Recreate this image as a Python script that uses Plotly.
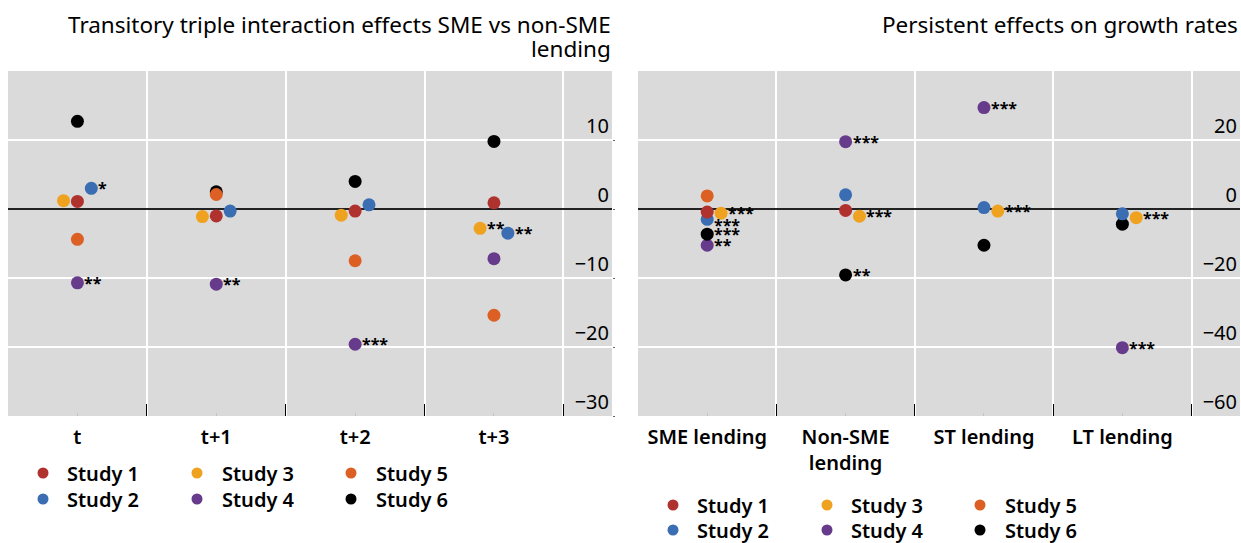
import plotly.graph_objects as go

# ---------------- data ----------------
studies = ["Study 1", "Study 2", "Study 3", "Study 4", "Study 5", "Study 6"]
colors = ["#b0322f", "#3b6db3", "#eea21f", "#673b8b", "#dc5f23", "#000000"]
draw_order = ["Study 4", "Study 6", "Study 5", "Study 2", "Study 1", "Study 3"]

left_cats = ["t", "t+1", "t+2", "t+3"]
left_vals = {
    "Study 1": [1.1, -1.0, -0.3, 0.9],
    "Study 2": [3.0, -0.3, 0.6, -3.5],
    "Study 3": [1.2, -1.1, -0.9, -2.8],
    "Study 4": [-10.7, -10.9, -19.6, -7.2],
    "Study 5": [-4.4, 2.1, -7.5, -15.4],
    "Study 6": [12.7, 2.5, 4.0, 9.8],
}
left_stars = {
    "Study 1": ["", "", "", ""],
    "Study 2": ["*", "", "", "**"],
    "Study 3": ["", "", "", "**"],
    "Study 4": ["**", "**", "***", ""],
    "Study 5": ["", "", "", ""],
    "Study 6": ["", "", "", ""],
}
left_offset = {"Study 1": 0, "Study 2": 0.1, "Study 3": -0.1,
               "Study 4": 0, "Study 5": 0, "Study 6": 0}

right_cats = ["SME lending", "Non-SME<br>lending", "ST lending", "LT lending"]
right_vals = {
    "Study 1": [-0.9, -0.4, None, None],
    "Study 2": [-3.0, 4.1, 0.4, -1.4],
    "Study 3": [-1.2, -2.1, -0.6, -2.5],
    "Study 4": [-10.5, 19.5, 29.4, -40.2],
    "Study 5": [3.8, None, None, None],
    "Study 6": [-7.3, -19.1, -10.5, -4.4],
}
right_stars = {
    "Study 1": ["", "", "", ""],
    "Study 2": ["***", "", "", ""],
    "Study 3": ["***", "***", "***", "***"],
    "Study 4": ["**", "***", "***", "***"],
    "Study 5": ["", "", "", ""],
    "Study 6": ["***", "**", "", ""],
}
right_offset = {"Study 1": 0, "Study 2": 0, "Study 3": 0.1,
                "Study 4": 0, "Study 5": 0, "Study 6": 0}
# labels nudged down (px) to avoid touching a neighbouring dot
right_star_nudge = {("Study 2", 0): -6}

left_title_lines = ["Transitory triple interaction effects SME vs non-SME", "lending"]
right_title_lines = ["Persistent effects on growth rates"]
left_yticks = [-30, -20, -10, 0, 10]
right_yticks = [-60, -40, -20, 0, 20]

# ---------------- figure ----------------
W, H = 1241, 543
FONT = "Noto Sans"
fig = go.Figure()

panels = [
    ("x", "y", left_cats, left_vals, left_stars, left_offset, {}),
    ("x2", "y2", right_cats, right_vals, right_stars, right_offset, right_star_nudge),
]
for xa, ya, cats, vals, stars, offs, nudge in panels:
    for s in draw_order:
        i = studies.index(s)
        xs, ys = [], []
        for k, v in enumerate(vals[s]):
            if v is None:
                continue
            xs.append(k + offs[s])
            ys.append(v)
        fig.add_trace(go.Scatter(
            x=xs, y=ys, mode="markers",
            marker=dict(size=13, color=colors[i], line=dict(width=0)),
            name=s, showlegend=False, xaxis=xa, yaxis=ya,
            cliponaxis=False,
        ))
    # significance stars, anchored to the data points
    for s in studies:
        for k, v in enumerate(vals[s]):
            if v is None or not stars[s][k]:
                continue
            fig.add_annotation(
                x=k + offs[s], y=v, xref=xa, yref=ya, text=stars[s][k],
                showarrow=False, xanchor="left", yanchor="middle",
                xshift=5, yshift=nudge.get((s, k), 0),
                font=dict(family=FONT, size=16, color="black", weight="bold"),
            )

ydom = [1 - 416 / H, 1 - 71 / H]
xdom1 = [8 / W, 612 / W]
xdom2 = [638 / W, 1240 / W]

def xaxis(dom, cats, anchor):
    return dict(
        domain=dom, anchor=anchor, range=[-0.5, 3.85],
        tickmode="array", tickvals=list(range(len(cats))), ticktext=cats,
        ticks="inside", ticklen=3, tickcolor="#c4c4c4", tickwidth=1,
        showgrid=False, zeroline=False, showline=False,
        tickfont=dict(family=FONT, size=20, color="black", weight=600),
        ticklabelstandoff=7,
        minor=dict(tickmode="array", tickvals=[-0.5, 0.5, 1.5, 2.5, 3.5],
                   ticks="inside", ticklen=12, tickcolor="black", tickwidth=1.3,
                   showgrid=True, gridcolor="white", gridwidth=1.5),
        fixedrange=True,
    )

def yaxis(rng, tv, anchor):
    return dict(
        domain=ydom, anchor=anchor, range=rng, side="right",
        tickmode="array", tickvals=tv,
        ticktext=[("\u2212" + str(abs(v))) if v < 0 else str(v) for v in tv],
        ticklabelposition="inside top",
        ticks="outside", ticklen=2, tickcolor="#666",
        showgrid=True, gridcolor="white", gridwidth=1.5,
        zeroline=True, zerolinecolor="#222", zerolinewidth=1.5,
        showline=False,
        tickfont=dict(family=FONT, size=20, color="black"),
        fixedrange=True,
    )

fig.update_layout(
    width=W, height=H,
    margin=dict(l=0, r=0, t=0, b=0),
    paper_bgcolor="white", plot_bgcolor="#dadada",
    showlegend=False,
    xaxis=xaxis(xdom1, left_cats, "y"),
    yaxis=yaxis([-30, 20], left_yticks, "x"),
    xaxis2=xaxis(xdom2, right_cats, "y2"),
    yaxis2=yaxis([-60, 40], right_yticks, "x2"),
    font=dict(family=FONT, color="black"),
)

# titles (one annotation per line for tight line spacing)
for lines, xr in ((left_title_lines, 613), (right_title_lines, 1240)):
    for j, line in enumerate(lines):
        fig.add_annotation(text=line, xref="paper", yref="paper",
                           x=xr / W, y=1 - (24 + 24 * j) / H,
                           xanchor="right", yanchor="middle",
                           align="right", showarrow=False,
                           font=dict(family=FONT, size=22.5, color="black"))

# legends (3 columns x 2 rows per panel)
legend_specs = [
    ([43, 197, 351], [65, 220, 374], [473, 499]),
    ([673, 827, 980], [695, 849, 1003], [505, 530]),
]
for mxs, txs, rys in legend_specs:
    for i, s in enumerate(studies):
        col, row = i // 2, i % 2
        mx, tx, ry = mxs[col], txs[col], rys[row]
        fig.add_shape(type="circle", xref="paper", yref="paper",
                      xsizemode="pixel", ysizemode="pixel",
                      xanchor=mx / W, yanchor=1 - ry / H,
                      x0=-5.5, x1=5.5, y0=-5.5, y1=5.5,
                      fillcolor=colors[i], line=dict(width=0))
        fig.add_annotation(text=s, xref="paper", yref="paper",
                           x=tx / W, y=1 - ry / H, xanchor="left", yanchor="middle",
                           showarrow=False,
                           font=dict(family=FONT, size=20, color="black", weight=600))

fig.write_html("out.html")
